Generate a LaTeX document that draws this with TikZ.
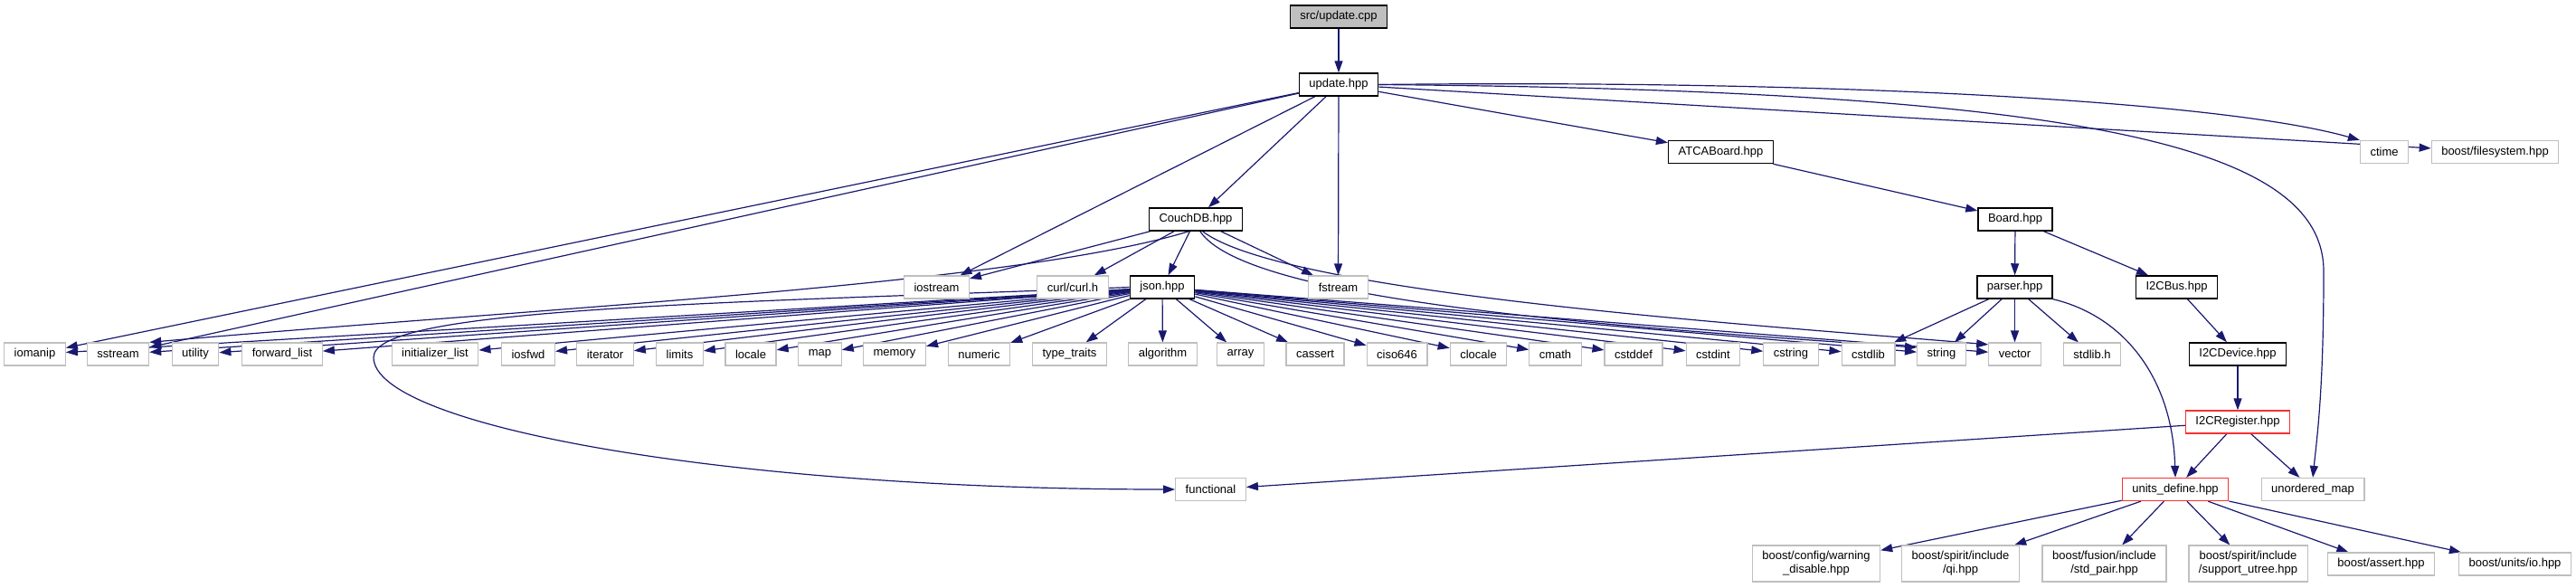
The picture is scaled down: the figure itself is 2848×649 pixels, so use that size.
\documentclass[tikz,border=0pt]{standalone}
\usepackage{fontspec}
\setmainfont{Liberation Sans}
\usepackage{tikz}
\usetikzlibrary{arrows.meta}
\definecolor{incBlue}{RGB}{25,25,112}
\definecolor{sysGray}{RGB}{191,191,191}
\definecolor{cutRed}{RGB}{245,50,50}
\pgfdeclarelayer{background}
\pgfsetlayers{background,main}

\begin{document}
\begin{tikzpicture}[x=1pt,y=-1pt,
    docbox/.style={draw=black, line width=1.5pt, fill=white, inner xsep=11pt, minimum height=25pt, font=\fontsize{13}{15}\selectfont},
    sysbox/.style={docbox, draw=sysGray, line width=1.2pt},
    cutbox/.style={docbox, draw=cutRed, line width=1.3pt},
    srcbox/.style={docbox, fill=sysGray},
    twoline/.style={sysbox, align=center, minimum height=40pt},
    incl/.style={draw=incBlue, line width=1.2pt, -{Triangle[length=13pt,width=9pt]}}]
    \useasboundingbox (0,0) rectangle (2848,649);

    % top of the graph
    \node[srcbox] (src) at (1480,18.5) {src/update.cpp};
    \node[docbox] (upd) at (1480,93.5) {update.hpp};
    \node[docbox] (atca) at (1902.5,168) {ATCABoard.hpp};
    \node[sysbox] (ctime) at (2636,168) {ctime};
    \node[sysbox] (bfs) at (2758.5,168) {boost/filesystem.hpp};
    \node[docbox] (couch) at (1322,242.5) {CouchDB.hpp};
    \node[docbox] (board) at (2228,242.5) {Board.hpp};

    \node[sysbox] (iostream) at (1035.5,317.5) {iostream};
    \node[sysbox] (curl) at (1186,317.5) {curl/curl.h};
    \node[docbox] (json) at (1285,317.5) {json.hpp};
    \node[sysbox] (fstream) at (1479.5,317.5) {fstream};
    \node[docbox] (parser) at (2227.5,317.5) {parser.hpp};
    \node[docbox] (bus) at (2406.5,317.5) {I2CBus.hpp};

    % standard headers
    \node[sysbox] (iomanip) at (38.5,391.5) {iomanip};
    \node[sysbox] (sstream) at (130.5,391.5) {sstream};
    \node[sysbox] (utility) at (216,391.5) {utility};
    \node[sysbox] (fwdlist) at (312,391.5) {forward\_list};
    \node[sysbox] (initlist) at (481,391.5) {initializer\_list};
    \node[sysbox] (iosfwd) at (584,391.5) {iosfwd};
    \node[sysbox] (iterator) at (669,391.5) {iterator};
    \node[sysbox] (limits) at (751.5,391.5) {limits};
    \node[sysbox] (locale) at (830,391.5) {locale};
    \node[sysbox] (map) at (906.5,391.5) {map};
    \node[sysbox] (memory) at (989,391.5) {memory};
    \node[sysbox] (numeric) at (1082.5,391.5) {numeric};
    \node[sysbox] (typetraits) at (1182.5,391.5) {type\_traits};
    \node[sysbox] (algorithm) at (1285.5,391.5) {algorithm};
    \node[sysbox] (array) at (1371.5,391.5) {array};
    \node[sysbox] (cassert) at (1454,391.5) {cassert};
    \node[sysbox] (ciso) at (1544.5,391.5) {ciso646};
    \node[sysbox] (clocale) at (1634.5,391.5) {clocale};
    \node[sysbox] (cmath) at (1719.5,391.5) {cmath};
    \node[sysbox] (cstddef) at (1806,391.5) {cstddef};
    \node[sysbox] (cstdint) at (1894,391.5) {cstdint};
    \node[sysbox] (cstring) at (1980,391.5) {cstring};
    \node[sysbox] (cstdlib) at (2065.5,391.5) {cstdlib};
    \node[sysbox] (string) at (2146.5,391.5) {string};
    \node[sysbox] (vector) at (2227.5,391.5) {vector};
    \node[sysbox] (stdlibh) at (2313,391.5) {stdlib.h};
    \node[docbox] (device) at (2474,391.5) {I2CDevice.hpp};

    \node[cutbox] (reg) at (2474,466.5) {I2CRegister.hpp};
    \node[sysbox] (functional) at (1338.5,541) {functional};
    \node[cutbox] (units) at (2405,541) {units\_define.hpp};
    \node[sysbox] (umap) at (2557,541) {unordered\_map};

    % boost headers
    \node[twoline] (bwarn) at (2008,623) {boost/config/warning\\\_disable.hpp};
    \node[twoline] (bqi) at (2167.5,623) {boost/spirit/include\\/qi.hpp};
    \node[twoline] (bpair) at (2326.5,623) {boost/fusion/include\\/std\_pair.hpp};
    \node[twoline] (butree) at (2485.5,623) {boost/spirit/include\\/support\_utree.hpp};
    \node[sysbox] (bassert) at (2632.5,623.5) {boost/assert.hpp};
    \node[sysbox] (bio) at (2780.5,623.5) {boost/units/io.hpp};

    % includes, kept behind the boxes
    \begin{pgfonlayer}{background}
    \draw[incl] (src) -- (upd);
    \draw[incl] (upd) -- (iomanip);
    \draw[incl] (upd) -- (sstream);
    \draw[incl] (upd) -- (iostream);
    \draw[incl] (upd) -- (couch);
    \draw[incl] (upd) -- (fstream);
    \draw[incl] (upd) -- (atca);
    \draw[incl] (upd.east) .. controls (2000,88) and (2450,110) .. (ctime.north west);
    \draw[incl] (upd) -- (bfs);
    \draw[incl] (upd.east) .. controls (2300,100) and (2569,160) .. (2569,300)
        .. controls (2569,430) and (2562,480) .. (umap.north);

    \draw[incl] (couch) -- (iostream);
    \draw[incl] (couch.240) .. controls (1120,315) and (600,340) .. (sstream.north east);
    \draw[incl] (couch) -- (curl);
    \draw[incl] (couch) -- (json);
    \draw[incl] (couch) -- (fstream);
    \draw[incl] (couch.290) .. controls (1380,335) and (1800,362) .. (string.165);
    \draw[incl] (couch.300) .. controls (1420,325) and (1950,360) .. (vector.160);

    \foreach \hdr in {iomanip,sstream,utility,fwdlist,initlist,iosfwd,iterator,limits,locale,map,memory,numeric,typetraits,algorithm,array,cassert,ciso,clocale,cmath,cstddef,cstdint,cstring,cstdlib,string,vector}
        \draw[incl] (json) -- (\hdr);
    \draw[incl] (json.west) .. controls (800,335) and (413,340) .. (413,395)
        .. controls (413,470) and (800,541) .. (functional.west);

    \draw[incl] (atca) -- (board);
    \draw[incl] (board) -- (parser);
    \draw[incl] (board) -- (bus);
    \draw[incl] (parser) -- (cstdlib);
    \draw[incl] (parser) -- (string);
    \draw[incl] (parser) -- (vector);
    \draw[incl] (parser) -- (stdlibh);
    \draw[incl] (parser.south east) .. controls (2350,350) and (2402,420) .. (units.north);
    \draw[incl] (bus) -- (device);
    \draw[incl] (device) -- (reg);
    \draw[incl] (reg) -- (functional);
    \draw[incl] (reg) -- (units);
    \draw[incl] (reg) -- (umap);

    \draw[incl] (units) -- (bwarn);
    \draw[incl] (units) -- (bqi);
    \draw[incl] (units) -- (bpair);
    \draw[incl] (units) -- (butree);
    \draw[incl] (units) -- (bassert);
    \draw[incl] (units) -- (bio);
    \end{pgfonlayer}
\end{tikzpicture}
\end{document}
